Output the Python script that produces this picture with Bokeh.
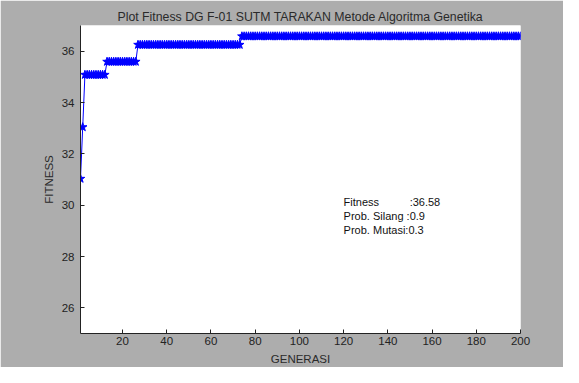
from bokeh.plotting import figure
from bokeh.models import Range1d, FixedTicker, Label
from bokeh.embed import file_html
from bokeh.resources import INLINE

# ---- data ----
generasi = list(range(1, 201))
fitness = (
    [31.03, 33.04]
    + [35.08, 35.08, 35.08, 35.08, 35.08, 35.08, 35.08, 35.08, 35.08, 35.08]
    + [35.59, 35.59, 35.59, 35.59, 35.59, 35.59, 35.59, 35.59, 35.59, 35.59,
       35.59, 35.59, 35.59, 35.59]
    + [36.25, 36.25, 36.25, 36.25, 36.25, 36.25, 36.25, 36.25, 36.25, 36.25,
       36.25, 36.25, 36.25, 36.25, 36.25, 36.25, 36.25, 36.25, 36.25, 36.25,
       36.25, 36.25, 36.25, 36.25, 36.25, 36.25, 36.25, 36.25, 36.25, 36.25,
       36.25, 36.25, 36.25, 36.25, 36.25, 36.25, 36.25, 36.25, 36.25, 36.25,
       36.25, 36.25, 36.25, 36.25, 36.25, 36.25, 36.25]
    + [36.58] * 127
)
x_ticks = [20, 40, 60, 80, 100, 120, 140, 160, 180, 200]
y_ticks = [26, 28, 30, 32, 34, 36]
title_text = "Plot Fitness DG F-01 SUTM TARAKAN Metode Algoritma Genetika"
NB = "\u00a0"
info_lines = ["Fitness" + NB * 10 + ":36.58", "Prob. Silang" + NB + ":0.9", "Prob. Mutasi:0.3"]
info_y = [30.12, 29.58, 29.05]

BG = "#adadad"
FONT = "Liberation Sans"

p = figure(width=563, height=367, output_backend="svg", toolbar_location=None,
           x_range=Range1d(1, 200), y_range=Range1d(25, 37),
           min_border_left=80, min_border_right=43, min_border_top=25,
           min_border_bottom=34)
p.background_fill_color = "white"
p.border_fill_color = BG
p.outline_line_color = None
p.grid.visible = False

p.title.text = title_text
p.title.align = "center"
p.title.vertical_align = "top"
p.title.text_font = FONT
p.title.text_font_size = "12.3px"
p.title.text_font_style = "normal"
p.title.text_color = "#2a2a2a"
p.title.text_line_height = 1.0
p.title.offset = 0
p.title.standoff = 0

for ax in (p.xaxis[0], p.yaxis[0]):
    ax.axis_line_color = "#222222"
    ax.major_tick_line_color = "#222222"
    ax.major_tick_in = 4
    ax.major_tick_out = 0
    ax.minor_tick_line_color = None
    ax.major_label_text_font = FONT
    ax.major_label_text_font_size = "11.5px"
    ax.major_label_text_color = "#222222"
    ax.axis_label_text_font = FONT
    ax.axis_label_text_font_size = "11.5px"
    ax.axis_label_text_font_style = "normal"
    ax.axis_label_text_color = "#2a2a2a"

p.xaxis.ticker = FixedTicker(ticks=x_ticks)
p.yaxis.ticker = FixedTicker(ticks=y_ticks)
p.xaxis.axis_label = "GENERASI"
p.yaxis.axis_label = "FITNESS"
p.xaxis.major_label_standoff = 3
p.xaxis.axis_label_standoff = 5
p.yaxis.major_label_standoff = 6
p.yaxis.axis_label_standoff = 4

p.line(generasi, fitness, line_color="#0000ff", line_width=1)
p.scatter(generasi, fitness, marker="star", size=9, line_color="#0000ff",
          fill_color="#0000ff", line_width=1)

for t, yy in zip(info_lines, info_y):
    p.add_layout(Label(x=120, y=yy, text=t, text_font=FONT, text_font_size="11px",
                       text_color="#111111", text_baseline="middle"))

open("out.html", "w").write(file_html(p, INLINE))
